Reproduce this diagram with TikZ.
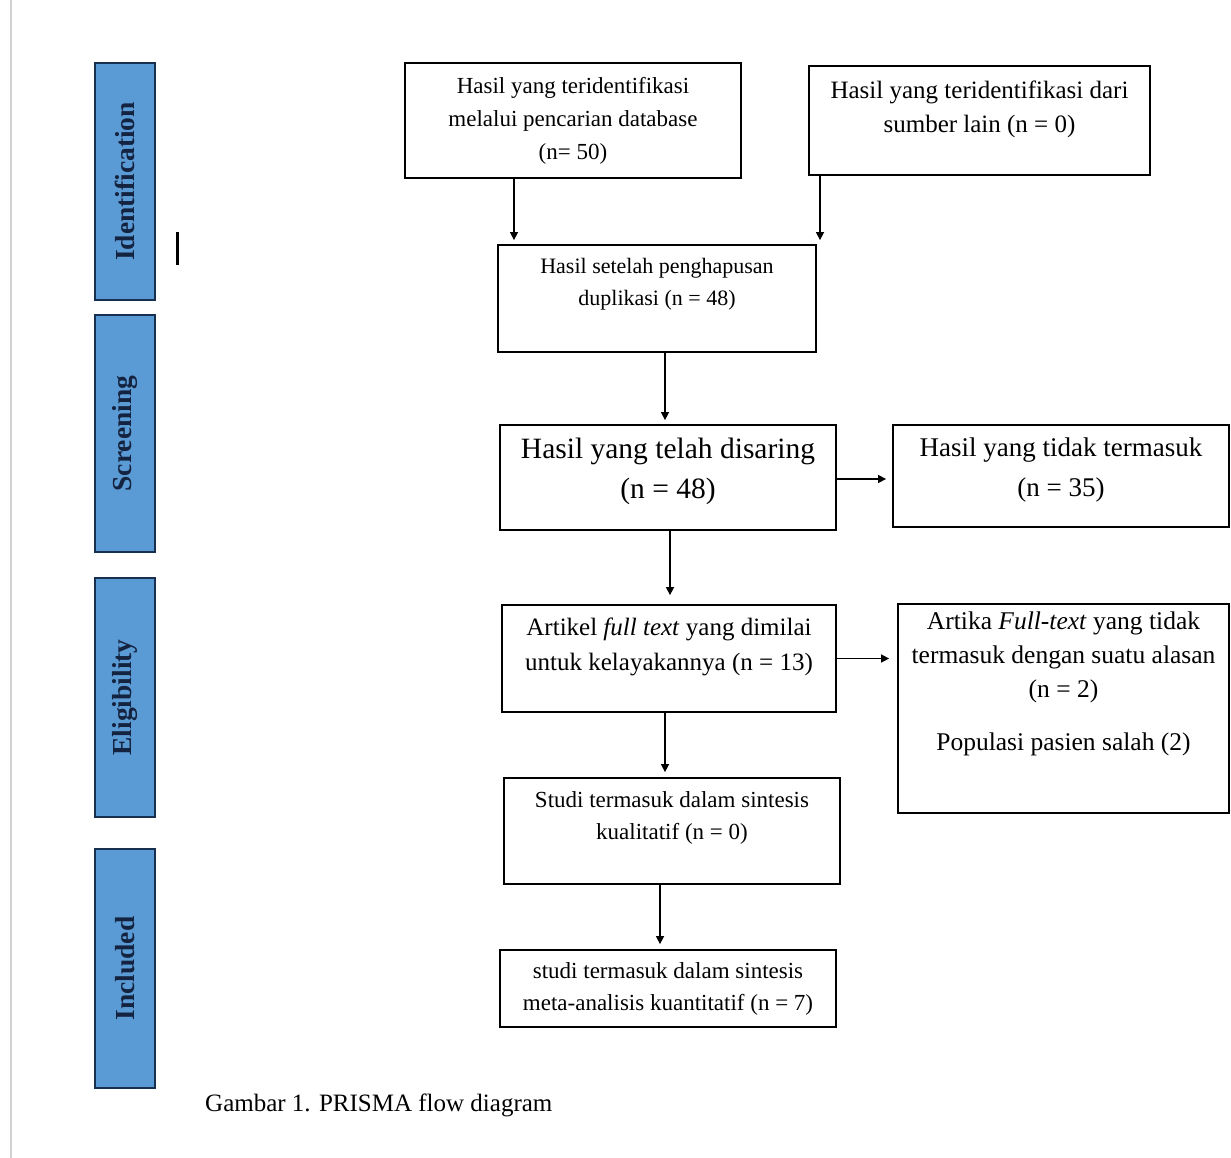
\documentclass[tikz,border=0pt]{standalone}
\usepackage{fontspec}
\setmainfont{Liberation Serif}
\usetikzlibrary{arrows.meta,calc}
\definecolor{phaseblue}{HTML}{5B9BD5}
\definecolor{phaseedge}{HTML}{17304F}
\definecolor{phasetext}{HTML}{14233F}
\tikzset{
  flowbox/.style={draw=black, line width=1.8pt, fill=white, inner sep=0pt},
  phasebox/.style={draw=phaseedge, line width=1.6pt, fill=phaseblue, minimum width=60pt, inner sep=0pt},
  phaselabel/.style={rotate=90, text=phasetext, font=\fontsize{27.5}{30}\selectfont\bfseries},
  txt/.style={align=center, inner sep=0pt},
  arr/.style={-{Triangle[length=8pt,width=8pt]}, line width=1.5pt}
}
\begin{document}
\begin{tikzpicture}[x=1pt,y=-1pt]
\useasboundingbox (0,0) rectangle (1231,1158);
\fill[white] (0,0) rectangle (1231,1158);
% left page rule
\draw[gray!35, line width=2.5pt] (11,0) -- (11,1158);
% stray bar
\draw[black, line width=3pt] (177,232) -- (177,265);

% phase boxes
\node[phasebox, minimum height=237pt] (pid) at (125,181.5) {};
\node[phaselabel] at (pid) {Identification};
\node[phasebox, minimum height=237pt] (psc) at (125,433.5) {};
\node[phaselabel] at (psc) {Screening};
\node[phasebox, minimum height=239pt] (pel) at (125,697.5) {};
\node[phaselabel] at (pel) {Eligibility};
\node[phasebox, minimum height=239pt] (pin) at (125,968.5) {};
\node[phaselabel] at (pin) {Included};

% flow boxes
\node[flowbox, minimum width=336pt, minimum height=115pt] (b1) at (573,120.5) {};
\node[txt, font=\fontsize{23}{33}\selectfont] at (573,120.5) {Hasil yang teridentifikasi\\melalui pencarian database\\(n= 50)};

\node[flowbox, minimum width=341pt, minimum height=109pt] (b2) at (979.5,120.5) {};
\node[txt, font=\fontsize{25}{34}\selectfont] at (979.5,109) {Hasil yang teridentifikasi dari\\sumber lain (n = 0)};

\node[flowbox, minimum width=318pt, minimum height=107pt] (b3) at (657,298.5) {};
\node[txt, font=\fontsize{22}{32}\selectfont] at (657,284) {Hasil setelah penghapusan\\duplikasi (n = 48)};

\node[flowbox, minimum width=336pt, minimum height=105pt] (b4) at (668,477.5) {};
\node[txt, font=\fontsize{29.5}{40}\selectfont] at (668,471) {Hasil yang telah disaring\\(n = 48)};

\node[flowbox, minimum width=336pt, minimum height=102pt] (b5) at (1061,476) {};
\node[txt, font=\fontsize{27}{40}\selectfont] at (1061,470) {Hasil yang tidak termasuk\\(n = 35)};

\node[flowbox, minimum width=334pt, minimum height=107pt] (b6) at (669,658.5) {};
\node[txt, font=\fontsize{25}{35}\selectfont] at (669,647) {Artikel \textit{full text} yang dimilai\\untuk kelayakannya (n = 13)};

\node[flowbox, minimum width=331pt, minimum height=209pt] (b7) at (1063.5,708.5) {};
\node[txt, font=\fontsize{25.5}{34}\selectfont, anchor=north] at (1063.5,612) {Artika \textit{Full-text} yang tidak\\termasuk dengan suatu alasan\\(n = 2)\\[19pt]Populasi pasien salah (2)};

\node[flowbox, minimum width=336pt, minimum height=106pt] (b8) at (672,831) {};
\node[txt, font=\fontsize{23}{32}\selectfont] at (672,818) {Studi termasuk dalam sintesis\\kualitatif (n = 0)};

\node[flowbox, minimum width=336pt, minimum height=77pt] (b9) at (668,988.5) {};
\node[txt, font=\fontsize{23}{32}\selectfont] at (668,989) {studi termasuk dalam sintesis\\meta-analisis kuantitatif (n = 7)};

% connectors
\draw[arr, shorten >=4pt] ([xshift=-59pt]b1.south) -- ([xshift=-59pt]b1.south |- b3.north);
\draw[arr, shorten >=4pt] ([xshift=-159.5pt]b2.south) -- ([xshift=-159.5pt]b2.south |- b3.north);
\draw[arr, shorten >=4pt] ([xshift=8pt]b3.south) -- ([xshift=8pt]b3.south |- b4.north);
\draw[arr, shorten >=6pt] ([yshift=-1.5pt]b4.east) -- ([yshift=-1.5pt]b4.east -| b5.west);
\draw[arr, shorten >=9pt] ([xshift=2pt]b4.south) -- ([xshift=2pt]b4.south |- b6.north);
\draw[arr, shorten >=8pt] (b6.east) -- (b6.east -| b7.west);
\draw[arr, shorten >=5pt] ([xshift=-4pt]b6.south) -- ([xshift=-4pt]b6.south |- b8.north);
\draw[arr, shorten >=5pt] ([xshift=-12pt]b8.south) -- ([xshift=-12pt]b8.south |- b9.north);

% caption
\node[txt, anchor=west, font=\fontsize{25}{30}\selectfont] (cap) at (205,1105) {Gambar 1. PRISMA flow diagram};
\end{tikzpicture}
\end{document}
